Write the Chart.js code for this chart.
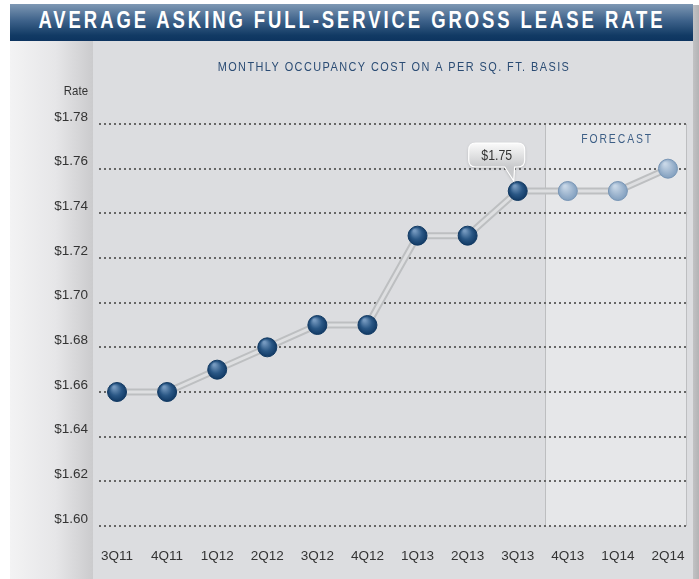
<!DOCTYPE html>
<html>
<head>
<meta charset="utf-8">
<script src="https://cdn.jsdelivr.net/npm/chart.js@4.4.1/dist/chart.umd.min.js"></script>
<style>
  body { margin: 0; background: #fff; width: 699px; height: 579px; overflow: hidden; position: relative; }
  .abs { position: absolute; }
  #shadow { left: 692px; top: 5px; width: 7px; height: 574px; background: linear-gradient(to right, #c4c4c6, #b3b3b5); }
  #leftcol { left: 10px; top: 41px; width: 83px; height: 538px; background: linear-gradient(to right, #f3f3f4, #e6e6e8 55%, #cbcbcd); }
  #panel { left: 93px; top: 41px; width: 600px; height: 538px; background: #dcdde0; }
  #titlebar { left: 10px; top: 4px; width: 683px; height: 37px; background: linear-gradient(to bottom, #7e98b4, #3e628a 45%, #113a64 85%, #0d3460);
    overflow: hidden; }
  #titlebar span { position: absolute; left: 50%; top: 2px; line-height: 38px; white-space: nowrap; color: #fff;
    font: bold 24px 'Liberation Sans', Arial, sans-serif; letter-spacing: 3.8px;
    transform: translateX(-50%) scaleX(0.77); }
  #chart { left: 0; top: 0; }
</style>
</head>
<body>
<div id="shadow" class="abs"></div>
<div id="leftcol" class="abs"></div>
<div id="panel" class="abs"></div>
<div id="titlebar" class="abs"><span>AVERAGE ASKING FULL-SERVICE GROSS LEASE RATE</span></div>
<canvas id="chart" class="abs" width="699" height="579"></canvas>
<script>
const quarters = ['3Q11', '4Q11', '1Q12', '2Q12', '3Q12', '4Q12', '1Q13', '2Q13', '3Q13', '4Q13', '1Q14', '2Q14']
const rates = [1.66, 1.66, 1.67, 1.68, 1.69, 1.69, 1.73, 1.73, 1.75, 1.75, 1.75, 1.76]
const forecastStart = 9   // 4Q13 onward is forecast
const calloutIndex = 8    // 3Q13 gets the value bubble
const yTicks = [1.60, 1.62, 1.64, 1.66, 1.68, 1.70, 1.72, 1.74, 1.76, 1.78]

const sans = "'Liberation Sans', Arial, sans-serif"
const points = rates.map((v, i) => ({x: i, y: v}))

function dotColor(ctx){
    const chart = ctx.chart
    const xs = chart.scales.x, ys = chart.scales.y
    const fc = ctx.dataIndex >= forecastStart
    const flat = fc ? '#8ea9c6' : '#1f4d7d'
    if(!xs || !ys || ctx.type !== 'data') return flat
    const px = xs.getPixelForValue(ctx.dataIndex)
    const py = ys.getPixelForValue(rates[ctx.dataIndex])
    if(!isFinite(px) || !isFinite(py)) return flat
    const g = chart.ctx.createRadialGradient(px - 3, py - 5, 1, px, py, 10)
    if(fc){
        g.addColorStop(0, '#c8d7e7')
        g.addColorStop(1, '#7f9dbd')
    } else {
        g.addColorStop(0, '#7599bf')
        g.addColorStop(0.55, '#2a5785')
        g.addColorStop(1, '#0f3762')
    }
    return g
}

// condensed text: squeeze horizontally around the anchor
function narrowText(ctx, text, x, y, sx){
    ctx.save()
    ctx.translate(x, y)
    ctx.scale(sx, 1)
    ctx.fillText(text, 0, 0)
    ctx.restore()
}

const decor = {
    id: 'decor',
    beforeDraw(chart){
        const {ctx, chartArea, scales} = chart
        // forecast panel
        const fx = scales.x.getPixelForValue(forecastStart - 0.45)
        ctx.save()
        ctx.fillStyle = '#e6e7e9'
        ctx.fillRect(fx, chartArea.top, chartArea.right - fx, chartArea.bottom - chartArea.top)
        ctx.strokeStyle = '#bdbec0'
        ctx.lineWidth = 1
        ctx.beginPath()
        ctx.moveTo(Math.round(fx) + 0.5, chartArea.top)
        ctx.lineTo(Math.round(fx) + 0.5, chartArea.bottom)
        ctx.moveTo(chartArea.right - 0.5, chartArea.top)
        ctx.lineTo(chartArea.right - 0.5, chartArea.bottom)
        ctx.stroke()

        ctx.fillStyle = '#3d5f86'
        ctx.font = '13px ' + sans
        ctx.letterSpacing = '2.4px'
        ctx.textAlign = 'center'
        ctx.textBaseline = 'middle'
        narrowText(ctx, 'FORECAST', (fx + chartArea.right) / 2 + 1, 139, 0.8)

        ctx.fillStyle = '#2b4c74'
        ctx.letterSpacing = '1.7px'
        narrowText(ctx, 'MONTHLY OCCUPANCY COST ON A PER SQ. FT. BASIS', 394, 67, 0.84)

        ctx.letterSpacing = '0px'
        ctx.fillStyle = '#333'
        ctx.textAlign = 'right'
        ctx.font = '13px ' + sans
        narrowText(ctx, 'Rate', 88, 91, 0.88)
        ctx.restore()
    },
    afterDatasetsDraw(chart){
        const {ctx, scales} = chart
        const px = scales.x.getPixelForValue(calloutIndex)
        const py = scales.y.getPixelForValue(rates[calloutIndex])
        const l = px - 49, r = px + 7, t = py - 48, b = py - 24, rad = 7
        ctx.save()
        ctx.shadowColor = 'rgba(0,0,0,0.25)'
        ctx.shadowBlur = 3
        ctx.shadowOffsetY = 1
        const g = ctx.createLinearGradient(0, t, 0, b)
        g.addColorStop(0, '#fbfbfb')
        g.addColorStop(1, '#c9cacc')
        ctx.fillStyle = g
        ctx.beginPath()
        ctx.moveTo(l + rad, t)
        ctx.lineTo(r - rad, t)
        ctx.quadraticCurveTo(r, t, r, t + rad)
        ctx.lineTo(r, b - rad)
        ctx.quadraticCurveTo(r, b, r - rad, b)
        ctx.lineTo(px - 3, b)
        ctx.lineTo(px - 4, py - 10)
        ctx.lineTo(px - 13, b)
        ctx.lineTo(l + rad, b)
        ctx.quadraticCurveTo(l, b, l, b - rad)
        ctx.lineTo(l, t + rad)
        ctx.quadraticCurveTo(l, t, l + rad, t)
        ctx.closePath()
        ctx.fill()
        ctx.shadowColor = 'transparent'
        ctx.strokeStyle = '#ffffff'
        ctx.lineWidth = 1.2
        ctx.stroke()
        ctx.fillStyle = '#333'
        ctx.font = '14px ' + sans
        ctx.textAlign = 'center'
        ctx.textBaseline = 'middle'
        narrowText(ctx, '$' + rates[calloutIndex].toFixed(2), (l + r) / 2, (t + b) / 2 + 1, 0.88)
        ctx.restore()
    }
}

new Chart(document.getElementById('chart').getContext('2d'), {
    type: 'line',
    data: {
        datasets: [
            {
                data: points,
                borderColor: '#dedfe1',
                borderWidth: 3,
                pointRadius: 9.5,
                pointBorderWidth: 1,
                pointBorderColor: ctx => ctx.dataIndex >= forecastStart ? '#7896b6' : '#123a63',
                pointBackgroundColor: ctx => dotColor(ctx),
                order: 0
            },
            {
                data: points,
                borderColor: '#bdbfc1',
                borderWidth: 7,
                pointRadius: 0,
                order: 1
            }
        ]
    },
    options: {
        responsive: false,
        animation: false,
        events: [],
        layout: { padding: { top: 124, right: 12, left: 0, bottom: 0 } },
        plugins: {
            legend: { display: false },
            tooltip: { enabled: false },
            title: { display: false }
        },
        scales: {
            x: {
                type: 'linear',
                min: -0.36,
                max: 11.38,
                afterBuildTicks: scale => { scale.ticks = quarters.map((q, i) => ({value: i})) },
                afterFit: scale => { scale.height = 53 },
                grid: { display: false },
                border: { display: false },
                ticks: {
                    callback: v => quarters[v],
                    autoSkip: false,
                    maxRotation: 0,
                    padding: 14,
                    color: '#333',
                    font: { family: sans, size: 13.5 }
                }
            },
            y: {
                min: 1.60,
                max: 1.78,
                afterBuildTicks: scale => { scale.ticks = yTicks.map(v => ({value: v})) },
                afterFit: scale => { scale.width = 99 },
                grid: { color: '#666', lineWidth: 2, drawTicks: false },
                border: { display: false, dash: [2, 3] },
                ticks: {
                    callback: v => '$' + v.toFixed(2),
                    padding: 11,
                    labelOffset: -7,
                    color: '#333',
                    font: { family: sans, size: 13.5 }
                }
            }
        }
    },
    plugins: [decor]
})
</script>
</body>
</html>
